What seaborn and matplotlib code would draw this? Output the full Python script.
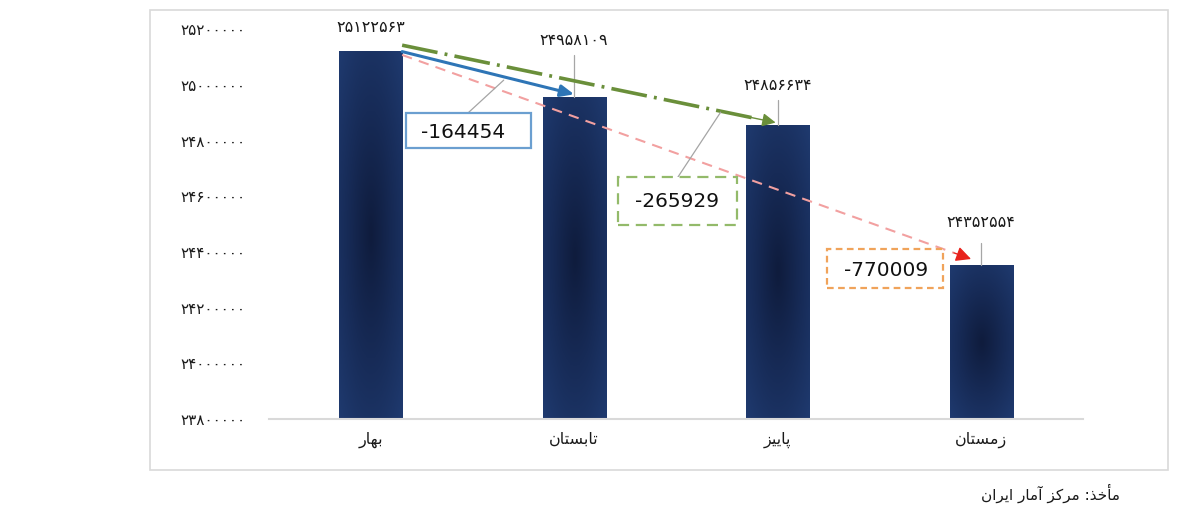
import matplotlib
matplotlib.use('Agg')
import matplotlib.pyplot as plt
import numpy as np
import seaborn as sns
from matplotlib.colors import LinearSegmentedColormap
from matplotlib.patches import Rectangle

# data
# فصل ها (presentation forms, visual order so matplotlib shows them joined)
fasl_logical = [
    '\uFE91\uFEEC\uFE8E\uFEAD',                          # بهار
    '\uFE97\uFE8E\uFE91\uFEB4\uFE98\uFE8E\uFEE5',        # تابستان
    '\uFB58\uFE8E\uFBFE\uFBFF\uFEB0',                    # پاییز
    '\uFEAF\uFEE3\uFEB4\uFE98\uFE8E\uFEE5',              # زمستان
]
fasl = [s[::-1] for s in fasl_logical]
jamiat = [25122563, 24958109, 24856634, 24352554]
taghir = [-164454, -265929, -770009]
yticks = list(range(23800000, 25200001, 200000))
manba = ('\uFEE3\uFE84\uFEA7\uFEAC: \uFEE3\uFEAE\uFB90\uFEB0 '
         '\uFE81\uFEE3\uFE8E\uFEAD \uFE8D\uFBFE\uFEAE\uFE8D\uFEE5')[::-1]

fa_digits = str.maketrans('0123456789', '۰۱۲۳۴۵۶۷۸۹')
def fa(n):
    return str(n).translate(fa_digits)

sns.set_style('white')
plt.rcParams['font.family'] = ['DejaVu Sans']

fig = plt.figure(figsize=(12, 5.31), dpi=100)
ax = fig.add_axes([0.224, 0.211, 0.6785, 0.734])

# frame around the chart
fig.patches.append(Rectangle((0.125, 0.115), 0.848, 0.866, transform=fig.transFigure,
                             fill=False, edgecolor='#d9d9d9', lw=1.2))

sns.barplot(x=fasl, y=jamiat, color='#1d3668', width=0.31, ax=ax, saturation=1)

# dark centred gradient on every bar
cmap = LinearSegmentedColormap.from_list('g', ['#0f1c3d', '#172b57', '#1f3a6f'])
gx, gy = np.meshgrid(np.linspace(-1, 1, 60), np.linspace(-1, 1, 120))
grad = np.sqrt(gx**2 * 0.8 + gy**2) / np.sqrt(1.8)
for bar in ax.patches:
    x0 = bar.get_x()
    x1 = x0 + bar.get_width()
    top = bar.get_height()
    im = ax.imshow(grad, cmap=cmap, extent=[x0, x1, yticks[0], top],
                   aspect='auto', origin='lower', zorder=bar.get_zorder() + 0.1)
    im.set_clip_path(bar)

ax.set_xlim(-0.5, 3.5)
ax.set_ylim(yticks[0], yticks[-1])

ax.set_yticks(yticks)
ax.set_yticklabels([fa(t) for t in yticks])
ax.tick_params(axis='y', length=0, pad=17, labelsize=11, labelcolor='#1a1a1a')
ax.tick_params(axis='x', length=0, pad=9, labelsize=11.5, labelcolor='#1a1a1a')
for s in ['left', 'right', 'top']:
    ax.spines[s].set_visible(False)
ax.spines['bottom'].set_color('#d9d9d9')
ax.spines['bottom'].set_linewidth(1.5)
ax.grid(False)

# value labels with small leader lines
lbl_y = [25207000, 25160000, 24999000, 24507000]
lead_top = [None, 25106000, 24945000, 24432000]
for i, v in enumerate(jamiat):
    ax.text(i, lbl_y[i], fa(v), ha='center', va='center', fontsize=11.5, color='#1a1a1a')
    if lead_top[i] is not None:
        ax.plot([i, i], [v, lead_top[i]], color='#a6a6a6', lw=0.9)

# arrows between seasons
bar_w = 0.31
x_start = bar_w / 2
# blue: بهار -> تابستان
ax.annotate('', xy=(1.0, jamiat[1] + 8000), xytext=(x_start, jamiat[0] - 3000),
            arrowprops=dict(arrowstyle='-|>,head_length=0.8,head_width=0.35',
                            color='#2e75b6', lw=2.2, shrinkA=0, shrinkB=0))
# green: بهار -> پاییز
gx0, gy0, gx1, gy1 = x_start, jamiat[0] + 20000, 1.99, jamiat[2] + 8000
ax.plot([gx0, gx0 + (gx1 - gx0) * 0.95], [gy0, gy0 + (gy1 - gy0) * 0.95],
        color='#6a8f3a', lw=2.6, dashes=(10, 2, 0.8, 2), solid_capstyle='butt')
ax.annotate('', xy=(gx1, gy1), xytext=(gx0 + (gx1 - gx0) * 0.93, gy0 + (gy1 - gy0) * 0.93),
            arrowprops=dict(arrowstyle='-|>,head_length=0.8,head_width=0.4',
                            color='#6a8f3a', lw=1, shrinkA=0, shrinkB=0))
# red: بهار -> زمستان
rx0, ry0, rx1, ry1 = x_start, jamiat[0] - 15000, 2.95, jamiat[3] + 22000
ax.plot([rx0, rx0 + (rx1 - rx0) * 0.97], [ry0, ry0 + (ry1 - ry0) * 0.97],
        color='#f2a0a0', lw=1.5, dashes=(5, 3.5))
ax.annotate('', xy=(rx1, ry1), xytext=(rx0 + (rx1 - rx0) * 0.97, ry0 + (ry1 - ry0) * 0.97),
            arrowprops=dict(arrowstyle='-|>,head_length=0.9,head_width=0.45',
                            color='#e8221c', lw=1, shrinkA=0, shrinkB=0))

# callout boxes with the changes
boxes = [
    dict(x0=0.172, x1=0.787, y0=24773000, y1=24898000, tx=0.25, ty=24830000,
         ec='#6b9fd0', ls='-', lead=((0.477, 24898000), (0.654, 25017000))),
    dict(x0=1.215, x1=1.80, y0=24496000, y1=24669000, tx=1.30, ty=24580000,
         ec='#93ba6a', ls=(0, (5, 3)), lead=((1.51, 24669000), (1.72, 24902000))),
    dict(x0=2.243, x1=2.814, y0=24270000, y1=24410000, tx=2.325, ty=24333000,
         ec='#f0a35a', ls=(0, (3, 2)), lead=None),
]
for b, val in zip(boxes, taghir):
    ax.add_patch(Rectangle((b['x0'], b['y0']), b['x1'] - b['x0'], b['y1'] - b['y0'],
                           fill=True, facecolor='white', edgecolor=b['ec'],
                           lw=1.6, ls=b['ls'], zorder=5))
    ax.text(b['tx'], b['ty'], str(val), ha='left', va='center', fontsize=14.5,
            color='#111111', zorder=6)
    if b['lead'] is not None:
        (lx0, ly0), (lx1, ly1) = b['lead']
        ax.plot([lx0, lx1], [ly0, ly1], color='#a5a5a5', lw=0.9, zorder=4)

fig.text(0.933, 0.070, manba, ha='right', va='center', fontsize=11, color='#1a1a1a')

fig.savefig('out.png', dpi=100, facecolor='white')
